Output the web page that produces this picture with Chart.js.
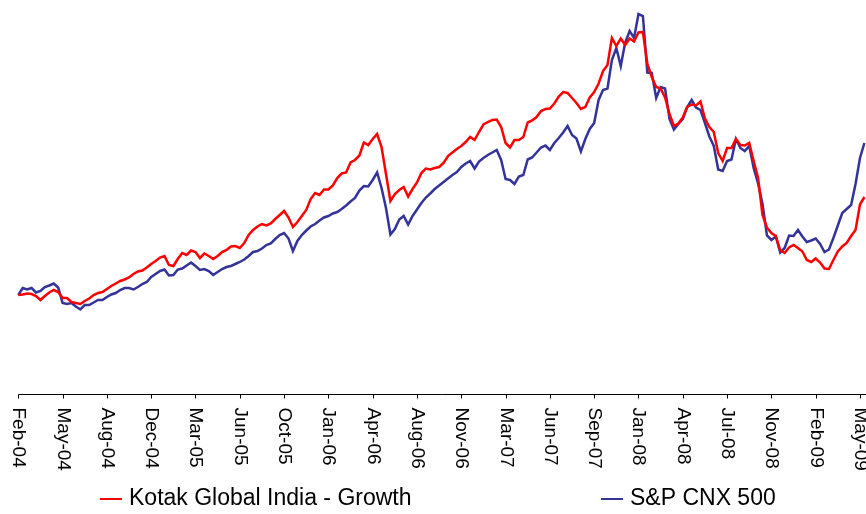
<!DOCTYPE html>
<html>
<head>
<meta charset="utf-8">
<script src="https://cdn.jsdelivr.net/npm/chart.js@4.4.1/dist/chart.umd.min.js"></script>
<style>
    body { margin: 0; background: #ffffff; }
    .canvasContainer { width: 866px; height: 514px; position: relative; }
</style>
</head>
<body>
<div class="canvasContainer">
    <canvas id="navChart"></canvas>
</div>
<script>
// tick labels, one every 10 points on the category axis
const tickLabels = ["Feb-04", "May-04", "Aug-04", "Dec-04", "Mar-05", "Jun-05", "Oct-05", "Jan-06", "Apr-06", "Aug-06",
    "Nov-06", "Mar-07", "Jun-07", "Sep-07", "Jan-08", "Apr-08", "Jul-08", "Nov-08", "Feb-09", "May-09"];
const tickEvery = 10;

const seriesNames = ["Kotak Global India - Growth", "S&P CNX 500"];

// rebased values
const kotakValues = [
    99, 99.5, 100.5, 100, 98, 94, 98, 101.5, 104, 102,
    96, 96, 92, 91, 90, 93, 95.5, 99, 101, 102,
    105, 108, 110.5, 113, 114.5, 116.5, 120, 122.5, 123.5, 126.5,
    130, 133, 136.5, 138, 129, 128, 135, 141, 139, 143.5,
    142, 136, 140.5, 138, 135, 138, 142, 144, 147.5, 148,
    146, 151, 159, 164, 167.5, 170, 168.5, 170.5, 175, 179,
    183, 176.5, 167, 172, 178, 184, 195, 201, 199, 204.5,
    204.5, 208.5, 216, 220.5, 221.5, 231.5, 234, 238.5, 251.5, 249,
    255, 260, 247, 220, 193, 200, 204, 207, 197.5, 205,
    211.5, 221, 225.5, 224.5, 226, 227, 231, 238, 241.5, 245,
    248, 252, 257, 254, 262, 269.5, 272, 274, 274.5, 267,
    251, 246.5, 254, 254, 257, 271.5, 273.5, 277, 283, 285,
    285.5, 290.5, 297.5, 302, 301, 296, 291, 285, 287, 296.5,
    302, 310.5, 323, 329, 356, 348, 355.5, 349, 355.5, 352.5,
    361.5, 362, 330, 317, 307, 305.5, 296.5, 280, 268, 270.5,
    276.5, 287, 289.5, 288.5, 292.5, 275.5, 267, 262, 241, 233,
    246, 246, 255, 249, 248.5, 251, 233, 216, 179, 166.5,
    161, 158, 143.5, 141, 146.5, 149, 146, 142.5, 134, 132,
    135.5, 131.5, 125.5, 125, 134, 142.5, 147.5, 151, 158, 164,
    189.5, 197
];
const cnxValues = [
    99, 106, 104.5, 106, 101.5, 103, 107, 108.5, 110.5, 106.5,
    91, 90, 91, 87.5, 84.5, 89, 89, 91.5, 94, 94,
    97, 99.5, 101, 104, 106, 106, 104.5, 107, 110, 112,
    117, 120, 123, 124.5, 118.5, 119, 124.5, 125.5, 128.5, 131.5,
    128, 124, 125, 123, 119, 122, 125, 127, 128, 130,
    132, 134.5, 138, 142, 143, 145.5, 149, 150.5, 155, 159,
    161, 155.5, 143, 153, 159, 163.5, 167.5, 170, 173.5, 176.5,
    178, 180.5, 182, 185, 188.5, 192.5, 196, 203.5, 208, 207.5,
    214, 221.5, 206, 186, 159.5, 165, 174.5, 178, 169.5, 178,
    184.5, 191, 196.5, 200.5, 205, 208.5, 212, 215.5, 219, 222,
    227, 230.5, 233, 225.5, 232.5, 236, 239, 241.5, 244, 234,
    215, 214, 210, 217.5, 219, 234.5, 236.5, 241.5, 246.5, 248.5,
    244, 251, 256, 261.5, 268, 259, 255.5, 242.5, 255, 265,
    271, 294, 304, 305.5, 334, 346, 328, 351.5, 363, 356,
    380, 378, 321.5, 321, 296, 307, 305.5, 275, 264.5, 270,
    275, 287, 294, 286.5, 284, 271, 257.5, 248, 224.5, 223,
    233, 234.5, 255, 246, 243, 248, 226, 210.5, 190, 158.5,
    154, 157.5, 141.5, 146, 158.5, 158, 164, 157.5, 152, 153.5,
    155.5, 150, 142, 144.5, 156, 168.5, 181, 185, 189, 210,
    236, 251
];

const kotakColor = "#ff0000";
const cnxColor = "#333399";

// one label per point, only every 10th one is shown
const pointLabels = kotakValues.map((v, i) => i % tickEvery === 0 ? (tickLabels[i / tickEvery] || "") : "");

//draws the axis line, ticks, rotated labels and the legend
const axisAndLegend = {
    id: "axisAndLegend",
    afterDraw(chart) {
        const ctx = chart.ctx;
        const area = chart.chartArea;
        const xScale = chart.scales.x;
        const axisY = Math.round(area.bottom) + 0.5;

        ctx.save();
        ctx.strokeStyle = "#000000";
        ctx.lineWidth = 1;
        ctx.beginPath();
        ctx.moveTo(Math.round(area.left) + 0.5, axisY);
        ctx.lineTo(chart.width, axisY);
        ctx.stroke();

        ctx.font = "19px 'Liberation Sans', Arial, sans-serif";
        ctx.fillStyle = "#000000";
        ctx.textAlign = "left";
        ctx.textBaseline = "middle";
        tickLabels.forEach((label, k) => {
            const x = Math.round(xScale.getPixelForValue(k * tickEvery)) + 0.5;
            ctx.beginPath();
            ctx.moveTo(x, axisY);
            ctx.lineTo(x, axisY + 4);
            ctx.stroke();

            ctx.save();
            ctx.translate(x, axisY + 13);
            ctx.rotate(Math.PI / 2);
            ctx.fillText(label, 0, 0);
            ctx.restore();
        });

        // legend, two entries spread across the bottom
        const legendY = 499;
        const entries = [
            { name: seriesNames[0], color: kotakColor, x: 100 },
            { name: seriesNames[1], color: cnxColor, x: 601 },
        ];
        ctx.font = "23px 'Liberation Sans', Arial, sans-serif";
        entries.forEach(e => {
            ctx.strokeStyle = e.color;
            ctx.lineWidth = 2;
            ctx.beginPath();
            ctx.moveTo(e.x, legendY);
            ctx.lineTo(e.x + 22, legendY);
            ctx.stroke();
            ctx.fillStyle = "#000000";
            ctx.fillText(e.name, e.x + 29, legendY);
        });
        ctx.restore();
    }
};

const ctx = document.getElementById("navChart").getContext("2d");
new Chart(ctx, {
    type: "line",
    data: {
        labels: pointLabels,
        datasets: [
            {
                label: seriesNames[0],
                data: kotakValues,
                borderColor: kotakColor,
                borderWidth: 2.5,
                pointRadius: 0,
                tension: 0,
            },
            {
                label: seriesNames[1],
                data: cnxValues,
                borderColor: cnxColor,
                borderWidth: 2.5,
                pointRadius: 0,
                tension: 0,
            },
        ],
    },
    options: {
        responsive: true,
        maintainAspectRatio: false,
        animation: false,
        layout: {
            padding: { left: 18.3, right: 1.6, top: 0, bottom: 120 },
        },
        plugins: {
            legend: { display: false },
            tooltip: { enabled: false },
        },
        scales: {
            x: {
                display: false,
            },
            y: {
                display: false,
                min: 0,
                max: 394,
            },
        },
        events: [],
    },
    plugins: [axisAndLegend],
});
</script>
</body>
</html>
